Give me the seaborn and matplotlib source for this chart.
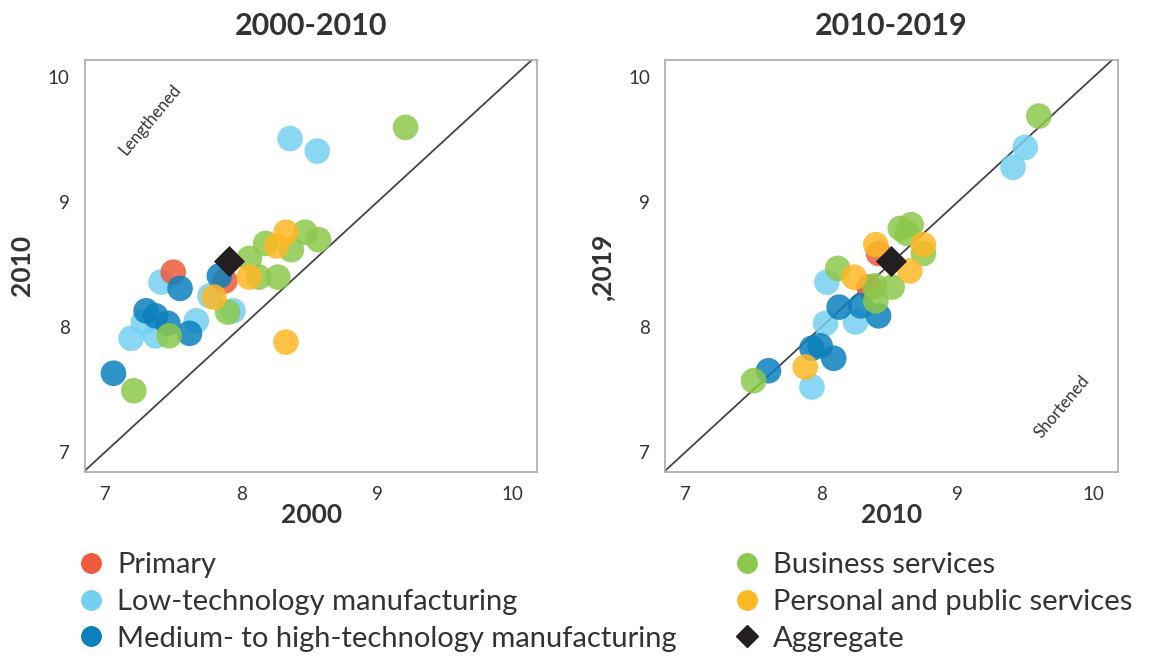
import pandas as pd
import numpy as np
import matplotlib.pyplot as plt
import seaborn as sns
from matplotlib.lines import Line2D

sectors = ['Primary', 'Low-technology manufacturing', 'Medium- to high-technology manufacturing',
           'Business services', 'Personal and public services']
colors = ['#EE5A3B', '#74D0F1', '#0B80BD', '#8CC84B', '#FDB825']

# 2000-2010 panel
p1_sector = ['Low-technology manufacturing', 'Low-technology manufacturing', 'Low-technology manufacturing',
             'Low-technology manufacturing', 'Low-technology manufacturing', 'Low-technology manufacturing',
             'Low-technology manufacturing', 'Low-technology manufacturing', 'Low-technology manufacturing',
             'Primary', 'Primary',
             'Medium- to high-technology manufacturing', 'Medium- to high-technology manufacturing',
             'Medium- to high-technology manufacturing', 'Medium- to high-technology manufacturing',
             'Medium- to high-technology manufacturing', 'Medium- to high-technology manufacturing',
             'Medium- to high-technology manufacturing',
             'Business services', 'Business services', 'Business services', 'Business services',
             'Business services', 'Business services', 'Business services', 'Business services',
             'Business services', 'Business services', 'Business services',
             'Personal and public services', 'Personal and public services', 'Personal and public services',
             'Personal and public services', 'Personal and public services']
p1_x = [8.36, 8.56, 7.41, 7.77, 7.94, 7.28, 7.37, 7.19, 7.67,
        7.50, 7.88,
        7.84, 7.55, 7.30, 7.37, 7.46, 7.62, 7.06,
        9.21, 8.47, 8.57, 8.37, 8.18, 8.06, 8.13, 8.27, 7.90, 7.47, 7.21,
        8.33, 8.26, 8.06, 7.80, 8.33]
p1_y = [9.51, 9.41, 8.36, 8.25, 8.13, 8.04, 7.93, 7.91, 8.05,
        8.44, 8.37,
        8.41, 8.31, 8.13, 8.09, 8.03, 7.95, 7.63,
        9.60, 8.76, 8.70, 8.62, 8.67, 8.55, 8.40, 8.40, 8.12, 7.93, 7.49,
        8.76, 8.65, 8.40, 8.24, 7.88]
p1_agg = (7.91, 8.53)

# 2010-2019 panel
p2_sector = ['Low-technology manufacturing', 'Low-technology manufacturing', 'Low-technology manufacturing',
             'Low-technology manufacturing', 'Low-technology manufacturing', 'Low-technology manufacturing',
             'Primary', 'Primary',
             'Medium- to high-technology manufacturing', 'Medium- to high-technology manufacturing',
             'Medium- to high-technology manufacturing', 'Medium- to high-technology manufacturing',
             'Medium- to high-technology manufacturing', 'Medium- to high-technology manufacturing',
             'Medium- to high-technology manufacturing',
             'Business services', 'Business services', 'Business services', 'Business services',
             'Business services', 'Business services', 'Business services', 'Business services',
             'Business services', 'Business services',
             'Personal and public services', 'Personal and public services', 'Personal and public services',
             'Personal and public services', 'Personal and public services']
p2_x = [9.50, 9.41, 8.04, 8.03, 8.25, 7.93,
        8.42, 8.35,
        8.13, 8.29, 8.42, 7.99, 7.93, 8.09, 7.61,
        9.60, 8.66, 8.58, 8.63, 8.75, 8.12, 8.39, 8.52, 8.40, 7.50,
        8.40, 8.75, 8.65, 8.24, 7.88]
p2_y = [9.44, 9.28, 8.36, 8.03, 8.04, 7.52,
        8.59, 8.32,
        8.16, 8.17, 8.09, 7.85, 7.83, 7.75, 7.65,
        9.69, 8.82, 8.79, 8.75, 8.59, 8.47, 8.33, 8.32, 8.21, 7.57,
        8.66, 8.66, 8.45, 8.40, 7.68]
p2_agg = (8.51, 8.53)

panels = [
    ('2000-2010', '2000', '2010', p1_x, p1_y, p1_sector, p1_agg, 'Lengthened', (7.33, 9.66)),
    ('2010-2019', '2010', ',2019', p2_x, p2_y, p2_sector, p2_agg, 'Shortened', (9.77, 7.36)),
]

sns.set_style('white')
plt.rcParams['font.family'] = ['Lato', 'DejaVu Sans']
text_col = '#333333'

fig = plt.figure(figsize=(11.51, 6.59), dpi=100)
axes = [fig.add_axes([0.0738, 0.284, 0.393, 0.625]),
        fig.add_axes([0.578, 0.284, 0.393, 0.625])]

palette = dict(zip(sectors, colors))

for ax, (title, xl, yl, xs, ys, sec, agg, note, note_xy) in zip(axes, panels):
    df = pd.DataFrame({'x': xs, 'y': ys, 'sector': sec})
    ax.axline((7, 7), slope=1, color='#444444', lw=1.3, zorder=1)
    sns.scatterplot(data=df, x='x', y='y', hue='sector', palette=palette, s=340,
                    alpha=0.85, linewidth=0, ax=ax, legend=False, zorder=2)
    ax.scatter([agg[0]], [agg[1]], marker='D', s=250, color='#231F20', zorder=3, linewidth=0)
    ax.set_xlim(6.85, 10.18)
    ax.set_ylim(6.84, 10.14)
    ax.set_xticks([7, 8, 9, 10])
    ax.set_yticks([7, 8, 9, 10])
    ax.tick_params(axis='x', direction='in', length=8, width=1, color='#999999',
                   labelsize=13.5, labelcolor=text_col, pad=10)
    ax.tick_params(axis='y', direction='out', length=7, width=1, color='#999999',
                   labelsize=13.5, labelcolor=text_col, pad=4)
    for s in ax.spines.values():
        s.set_color('#aaaaaa')
        s.set_linewidth(1.2)
    ax.set_title(title, fontsize=22, fontweight='bold', color=text_col, pad=18)
    ax.set_xlabel(xl, fontsize=19, fontweight='bold', color=text_col, labelpad=0)
    ax.set_ylabel(yl, fontsize=19, fontweight='bold', color=text_col, labelpad=10)
    ax.text(note_xy[0], note_xy[1], note, rotation=50, ha='center', va='center',
            fontsize=12, color=text_col)

handles = [Line2D([], [], marker='o', linestyle='', markersize=14, color=c, label=s)
           for s, c in zip(sectors, colors)]
handles.append(Line2D([], [], marker='D', linestyle='', markersize=11, color='#231F20', label='Aggregate'))
fig.legend(handles=handles, loc='upper left', bbox_to_anchor=(0.056, 0.18),
           ncol=2, frameon=False, fontsize=21, labelcolor=text_col, handletextpad=0.4,
           handlelength=1.0, columnspacing=1.9, labelspacing=0.37, borderaxespad=0)

fig.savefig('out.png', dpi=100)
